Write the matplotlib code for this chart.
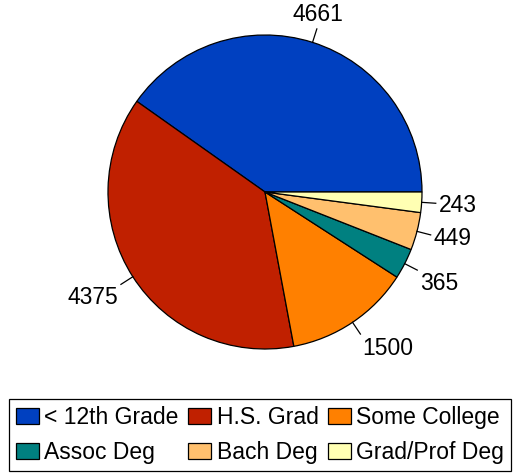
import numpy as np
import matplotlib
matplotlib.use("Agg")
import matplotlib.pyplot as plt
from matplotlib.patches import Patch

categories = ["< 12th Grade", "H.S. Grad", "Some College", "Assoc Deg", "Bach Deg", "Grad/Prof Deg"]
values = [4661, 4375, 1500, 365, 449, 243]
colors = ["#0040C0", "#C02000", "#FF8000", "#008080", "#FFC06E", "#FFFFB3"]

plt.rcParams['font.family'] = ['Liberation Sans', 'DejaVu Sans']
FS = 16.5

fig = plt.figure(figsize=(5.19, 4.74), dpi=100)
W, H = 519, 474
cx, cy, r = 265, 192, 157
ax = fig.add_axes([(cx - r) / W, (H - cy - r) / H, 2 * r / W, 2 * r / H])

wedges, _ = ax.pie(values, colors=colors, startangle=0, counterclock=True, radius=1,
                   wedgeprops=dict(edgecolor='black', linewidth=0.9))
ax.set_xlim(-1, 1)
ax.set_ylim(-1, 1)
ax.set_aspect('equal')
ax.axis('off')
for w in wedges:
    w.set_clip_on(False)

total = sum(values)
start = 0.0
for v in values:
    ang = start + 360.0 * v / total / 2
    start += 360.0 * v / total
    a = np.deg2rad(ang)
    c, s = np.cos(a), np.sin(a)
    ax.plot([c, 1.09 * c], [s, 1.09 * s], color='black', lw=0.9, clip_on=False)
    ha = 'left' if c > 0.4 else ('right' if c < -0.4 else 'center')
    va = 'bottom' if s > 0.4 else ('top' if s < -0.4 else 'center')
    ax.text(1.11 * c, 1.11 * s - (0.015 if va == 'center' else 0), str(v),
            ha=ha, va=va, fontsize=FS)

# legend filled row-wise (3 columns, 2 rows)
order = [0, 3, 1, 4, 2, 5]
handles = [Patch(facecolor=colors[i], edgecolor='black', linewidth=0.9) for i in order]
labels = [categories[i] for i in order]
leg = fig.legend(handles, labels, ncol=3, loc='center',
                 bbox_to_anchor=(260 / W, 1 - 435 / H), fontsize=FS,
                 frameon=True, fancybox=False, framealpha=1, edgecolor='black',
                 handlelength=1.0, handleheight=0.7, handletextpad=0.25,
                 columnspacing=0.4, labelspacing=0.55, borderpad=0.3,
                 borderaxespad=0)
leg.get_frame().set_linewidth(0.9)

fig.savefig("out.png", dpi=100)
